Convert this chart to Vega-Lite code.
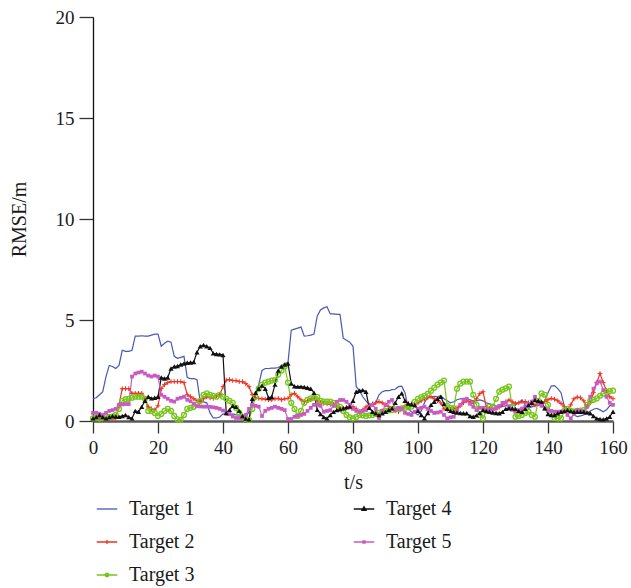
{
  "$schema": "https://vega.github.io/schema/vega-lite/v6.json",
  "width": 520,
  "height": 404,
  "autosize": {"type": "none"},
  "padding": {"left": 93, "top": 17, "right": 18, "bottom": 167},
  "background": "white",
  "config": {
    "view": {"stroke": null},
    "font": "Liberation Serif",
    "axis": {"labelFont": "Liberation Serif", "titleFont": "Liberation Serif", "labelColor": "#1a1a1a", "titleColor": "#1a1a1a", "grid": false, "titleFontWeight": "normal", "labelFontSize": 19, "titleFontSize": 20},
    "legend": {"labelFont": "Liberation Serif"}
  },
  "data": {"values": [
    {"t":0,"Target 1":1.1,"Target 2":0.1,"Target 3":0.13,"Target 4":0.13,"Target 5":0.4},
    {"t":1,"Target 1":1.15,"Target 2":0.1,"Target 3":0.15,"Target 4":0.2,"Target 5":0.4},
    {"t":2,"Target 1":1.3,"Target 2":0.08,"Target 3":0.13,"Target 4":0.3,"Target 5":0.35},
    {"t":3,"Target 1":1.45,"Target 2":0.1,"Target 3":0.15,"Target 4":0.2,"Target 5":0.3},
    {"t":4,"Target 1":2.2,"Target 2":0.12,"Target 3":0.2,"Target 4":0.13,"Target 5":0.4},
    {"t":5,"Target 1":2.75,"Target 2":0.1,"Target 3":0.2,"Target 4":0.2,"Target 5":0.5},
    {"t":6,"Target 1":2.7,"Target 2":0.1,"Target 3":0.22,"Target 4":0.25,"Target 5":0.54},
    {"t":7,"Target 1":2.6,"Target 2":0.12,"Target 3":0.3,"Target 4":0.22,"Target 5":0.6},
    {"t":8,"Target 1":2.75,"Target 2":0.8,"Target 3":0.6,"Target 4":0.21,"Target 5":0.8},
    {"t":9,"Target 1":3.5,"Target 2":1.6,"Target 3":1.0,"Target 4":0.25,"Target 5":0.82},
    {"t":10,"Target 1":3.45,"Target 2":1.6,"Target 3":1.08,"Target 4":0.3,"Target 5":0.84},
    {"t":11,"Target 1":3.45,"Target 2":1.6,"Target 3":1.1,"Target 4":0.2,"Target 5":0.84},
    {"t":12,"Target 1":3.5,"Target 2":1.37,"Target 3":1.15,"Target 4":0.13,"Target 5":2.2},
    {"t":13,"Target 1":4.2,"Target 2":1.37,"Target 3":1.2,"Target 4":0.5,"Target 5":2.35},
    {"t":14,"Target 1":4.2,"Target 2":1.37,"Target 3":1.2,"Target 4":0.46,"Target 5":2.4},
    {"t":15,"Target 1":4.22,"Target 2":1.37,"Target 3":1.2,"Target 4":0.7,"Target 5":2.44},
    {"t":16,"Target 1":4.2,"Target 2":1.1,"Target 3":1.1,"Target 4":1.0,"Target 5":2.35},
    {"t":17,"Target 1":4.2,"Target 2":0.7,"Target 3":0.5,"Target 4":1.2,"Target 5":2.25},
    {"t":18,"Target 1":4.25,"Target 2":0.6,"Target 3":0.5,"Target 4":1.12,"Target 5":2.2},
    {"t":19,"Target 1":4.3,"Target 2":0.55,"Target 3":0.4,"Target 4":1.15,"Target 5":2.25},
    {"t":20,"Target 1":4.3,"Target 2":0.75,"Target 3":0.25,"Target 4":1.2,"Target 5":2.2},
    {"t":21,"Target 1":3.7,"Target 2":1.6,"Target 3":0.35,"Target 4":2.15,"Target 5":1.3},
    {"t":22,"Target 1":3.85,"Target 2":1.8,"Target 3":0.5,"Target 4":2.1,"Target 5":1.2},
    {"t":23,"Target 1":3.95,"Target 2":1.9,"Target 3":0.6,"Target 4":2.15,"Target 5":1.1},
    {"t":24,"Target 1":3.9,"Target 2":1.95,"Target 3":0.5,"Target 4":2.6,"Target 5":1.0},
    {"t":25,"Target 1":3.2,"Target 2":1.95,"Target 3":0.25,"Target 4":2.7,"Target 5":0.96},
    {"t":26,"Target 1":3.1,"Target 2":1.95,"Target 3":0.08,"Target 4":2.72,"Target 5":1.1},
    {"t":27,"Target 1":3.15,"Target 2":1.95,"Target 3":0.06,"Target 4":2.8,"Target 5":1.15},
    {"t":28,"Target 1":3.2,"Target 2":1.9,"Target 3":0.3,"Target 4":2.85,"Target 5":1.2},
    {"t":29,"Target 1":2.15,"Target 2":1.3,"Target 3":0.6,"Target 4":2.88,"Target 5":1.05},
    {"t":30,"Target 1":2.1,"Target 2":1.2,"Target 3":0.65,"Target 4":2.9,"Target 5":0.98},
    {"t":31,"Target 1":2.1,"Target 2":1.1,"Target 3":0.7,"Target 4":2.92,"Target 5":0.85},
    {"t":32,"Target 1":2.05,"Target 2":1.0,"Target 3":0.8,"Target 4":3.4,"Target 5":0.74},
    {"t":33,"Target 1":0.95,"Target 2":0.96,"Target 3":1.0,"Target 4":3.7,"Target 5":0.72},
    {"t":34,"Target 1":0.95,"Target 2":1.1,"Target 3":1.3,"Target 4":3.76,"Target 5":0.71},
    {"t":35,"Target 1":0.9,"Target 2":1.2,"Target 3":1.37,"Target 4":3.7,"Target 5":0.71},
    {"t":36,"Target 1":0.4,"Target 2":1.15,"Target 3":1.3,"Target 4":3.62,"Target 5":0.7},
    {"t":37,"Target 1":0.15,"Target 2":1.12,"Target 3":1.25,"Target 4":3.35,"Target 5":0.68},
    {"t":38,"Target 1":0.15,"Target 2":1.25,"Target 3":1.2,"Target 4":3.32,"Target 5":0.65},
    {"t":39,"Target 1":0.2,"Target 2":1.3,"Target 3":1.3,"Target 4":3.3,"Target 5":0.6},
    {"t":40,"Target 1":0.35,"Target 2":1.7,"Target 3":1.2,"Target 4":3.27,"Target 5":0.52},
    {"t":41,"Target 1":0.3,"Target 2":2.03,"Target 3":1.1,"Target 4":0.4,"Target 5":0.42},
    {"t":42,"Target 1":0.3,"Target 2":2.05,"Target 3":1.0,"Target 4":0.55,"Target 5":0.35},
    {"t":43,"Target 1":0.35,"Target 2":2.0,"Target 3":0.9,"Target 4":0.75,"Target 5":0.22},
    {"t":44,"Target 1":0.3,"Target 2":2.0,"Target 3":0.65,"Target 4":0.7,"Target 5":0.15},
    {"t":45,"Target 1":0.3,"Target 2":1.95,"Target 3":0.4,"Target 4":0.5,"Target 5":0.15},
    {"t":46,"Target 1":0.25,"Target 2":1.95,"Target 3":0.2,"Target 4":0.25,"Target 5":0.2},
    {"t":47,"Target 1":0.2,"Target 2":1.85,"Target 3":0.1,"Target 4":0.12,"Target 5":0.3},
    {"t":48,"Target 1":0.45,"Target 2":1.7,"Target 3":0.05,"Target 4":0.08,"Target 5":0.6},
    {"t":49,"Target 1":0.9,"Target 2":1.3,"Target 3":0.6,"Target 4":1.1,"Target 5":0.8},
    {"t":50,"Target 1":1.3,"Target 2":1.15,"Target 3":1.2,"Target 4":1.4,"Target 5":0.75},
    {"t":51,"Target 1":1.8,"Target 2":1.12,"Target 3":1.6,"Target 4":1.6,"Target 5":0.71},
    {"t":52,"Target 1":2.5,"Target 2":1.1,"Target 3":1.8,"Target 4":1.75,"Target 5":0.25},
    {"t":53,"Target 1":2.6,"Target 2":1.08,"Target 3":1.9,"Target 4":1.6,"Target 5":0.5},
    {"t":54,"Target 1":2.6,"Target 2":1.05,"Target 3":1.95,"Target 4":1.15,"Target 5":0.6},
    {"t":55,"Target 1":2.62,"Target 2":1.05,"Target 3":2.0,"Target 4":1.2,"Target 5":0.65},
    {"t":56,"Target 1":2.62,"Target 2":1.1,"Target 3":2.03,"Target 4":1.8,"Target 5":0.71},
    {"t":57,"Target 1":2.65,"Target 2":1.12,"Target 3":2.3,"Target 4":2.5,"Target 5":0.65},
    {"t":58,"Target 1":2.75,"Target 2":1.05,"Target 3":2.5,"Target 4":2.7,"Target 5":0.6},
    {"t":59,"Target 1":2.85,"Target 2":1.1,"Target 3":2.7,"Target 4":2.8,"Target 5":0.54},
    {"t":60,"Target 1":2.9,"Target 2":1.12,"Target 3":1.9,"Target 4":2.85,"Target 5":0.1},
    {"t":61,"Target 1":4.5,"Target 2":1.3,"Target 3":0.9,"Target 4":1.85,"Target 5":0.1},
    {"t":62,"Target 1":4.55,"Target 2":1.37,"Target 3":0.6,"Target 4":1.72,"Target 5":0.21},
    {"t":63,"Target 1":4.6,"Target 2":1.2,"Target 3":0.25,"Target 4":1.7,"Target 5":0.25},
    {"t":64,"Target 1":4.65,"Target 2":1.05,"Target 3":0.5,"Target 4":1.7,"Target 5":0.3},
    {"t":65,"Target 1":4.2,"Target 2":0.96,"Target 3":0.9,"Target 4":1.68,"Target 5":0.35},
    {"t":66,"Target 1":4.22,"Target 2":1.0,"Target 3":1.05,"Target 4":1.65,"Target 5":0.5},
    {"t":67,"Target 1":4.25,"Target 2":1.05,"Target 3":1.12,"Target 4":1.6,"Target 5":0.65},
    {"t":68,"Target 1":4.3,"Target 2":1.12,"Target 3":1.15,"Target 4":1.4,"Target 5":0.8},
    {"t":69,"Target 1":5.2,"Target 2":1.0,"Target 3":1.2,"Target 4":0.55,"Target 5":0.8},
    {"t":70,"Target 1":5.5,"Target 2":0.9,"Target 3":1.0,"Target 4":0.35,"Target 5":0.75},
    {"t":71,"Target 1":5.6,"Target 2":0.87,"Target 3":0.96,"Target 4":0.2,"Target 5":0.46},
    {"t":72,"Target 1":5.66,"Target 2":0.85,"Target 3":0.96,"Target 4":0.13,"Target 5":0.5},
    {"t":73,"Target 1":5.3,"Target 2":0.82,"Target 3":0.96,"Target 4":0.3,"Target 5":0.54},
    {"t":74,"Target 1":5.3,"Target 2":0.8,"Target 3":0.9,"Target 4":0.45,"Target 5":0.75},
    {"t":75,"Target 1":5.28,"Target 2":0.7,"Target 3":0.8,"Target 4":0.54,"Target 5":0.95},
    {"t":76,"Target 1":5.28,"Target 2":0.63,"Target 3":0.7,"Target 4":0.58,"Target 5":1.04},
    {"t":77,"Target 1":4.1,"Target 2":0.63,"Target 3":0.5,"Target 4":0.63,"Target 5":1.04},
    {"t":78,"Target 1":4.0,"Target 2":0.65,"Target 3":0.3,"Target 4":0.68,"Target 5":0.95},
    {"t":79,"Target 1":3.9,"Target 2":0.68,"Target 3":0.18,"Target 4":0.71,"Target 5":0.8},
    {"t":80,"Target 1":3.7,"Target 2":0.71,"Target 3":0.13,"Target 4":1.0,"Target 5":0.6},
    {"t":81,"Target 1":1.7,"Target 2":0.6,"Target 3":0.2,"Target 4":1.45,"Target 5":0.5},
    {"t":82,"Target 1":1.5,"Target 2":0.46,"Target 3":0.3,"Target 4":1.5,"Target 5":0.46},
    {"t":83,"Target 1":1.2,"Target 2":0.55,"Target 3":0.28,"Target 4":1.53,"Target 5":0.5},
    {"t":84,"Target 1":1.0,"Target 2":0.7,"Target 3":0.25,"Target 4":1.45,"Target 5":0.54},
    {"t":85,"Target 1":0.8,"Target 2":0.79,"Target 3":0.28,"Target 4":0.65,"Target 5":0.7},
    {"t":86,"Target 1":0.75,"Target 2":0.85,"Target 3":0.3,"Target 4":0.46,"Target 5":0.8},
    {"t":87,"Target 1":0.9,"Target 2":0.9,"Target 3":0.35,"Target 4":0.38,"Target 5":0.6},
    {"t":88,"Target 1":1.3,"Target 2":0.96,"Target 3":0.4,"Target 4":0.3,"Target 5":0.15},
    {"t":89,"Target 1":1.45,"Target 2":0.9,"Target 3":0.46,"Target 4":0.38,"Target 5":0.5},
    {"t":90,"Target 1":1.5,"Target 2":0.8,"Target 3":0.5,"Target 4":0.46,"Target 5":0.8},
    {"t":91,"Target 1":1.5,"Target 2":0.71,"Target 3":0.52,"Target 4":0.55,"Target 5":0.95},
    {"t":92,"Target 1":1.55,"Target 2":0.6,"Target 3":0.54,"Target 4":0.63,"Target 5":1.04},
    {"t":93,"Target 1":1.57,"Target 2":0.5,"Target 3":0.58,"Target 4":0.9,"Target 5":0.54},
    {"t":94,"Target 1":1.7,"Target 2":0.46,"Target 3":0.6,"Target 4":1.2,"Target 5":0.65},
    {"t":95,"Target 1":1.72,"Target 2":0.6,"Target 3":0.63,"Target 4":1.37,"Target 5":0.6},
    {"t":96,"Target 1":1.4,"Target 2":0.75,"Target 3":0.65,"Target 4":1.0,"Target 5":0.4},
    {"t":97,"Target 1":0.6,"Target 2":0.87,"Target 3":0.68,"Target 4":0.87,"Target 5":0.35},
    {"t":98,"Target 1":0.45,"Target 2":0.85,"Target 3":0.71,"Target 4":0.83,"Target 5":0.3},
    {"t":99,"Target 1":0.4,"Target 2":0.8,"Target 3":0.95,"Target 4":0.79,"Target 5":0.45},
    {"t":100,"Target 1":0.3,"Target 2":0.9,"Target 3":1.1,"Target 4":0.5,"Target 5":0.6},
    {"t":101,"Target 1":0.5,"Target 2":1.0,"Target 3":1.18,"Target 4":0.3,"Target 5":0.65},
    {"t":102,"Target 1":0.9,"Target 2":1.1,"Target 3":1.25,"Target 4":0.13,"Target 5":0.71},
    {"t":103,"Target 1":1.2,"Target 2":1.15,"Target 3":1.35,"Target 4":0.4,"Target 5":0.6},
    {"t":104,"Target 1":1.2,"Target 2":1.2,"Target 3":1.5,"Target 4":0.8,"Target 5":0.5},
    {"t":105,"Target 1":1.22,"Target 2":1.1,"Target 3":1.65,"Target 4":0.95,"Target 5":0.4},
    {"t":106,"Target 1":1.2,"Target 2":1.0,"Target 3":1.8,"Target 4":1.1,"Target 5":0.42},
    {"t":107,"Target 1":1.25,"Target 2":0.9,"Target 3":1.9,"Target 4":1.2,"Target 5":0.46},
    {"t":108,"Target 1":1.1,"Target 2":0.6,"Target 3":2.0,"Target 4":0.85,"Target 5":0.3},
    {"t":109,"Target 1":1.0,"Target 2":0.54,"Target 3":0.75,"Target 4":0.6,"Target 5":0.13},
    {"t":110,"Target 1":0.9,"Target 2":0.58,"Target 3":0.65,"Target 4":0.5,"Target 5":0.18},
    {"t":111,"Target 1":0.95,"Target 2":0.6,"Target 3":0.63,"Target 4":0.45,"Target 5":0.21},
    {"t":112,"Target 1":1.05,"Target 2":0.65,"Target 3":1.6,"Target 4":0.42,"Target 5":0.5},
    {"t":113,"Target 1":1.1,"Target 2":0.75,"Target 3":1.85,"Target 4":0.4,"Target 5":0.8},
    {"t":114,"Target 1":1.12,"Target 2":0.9,"Target 3":1.95,"Target 4":0.38,"Target 5":1.04},
    {"t":115,"Target 1":1.1,"Target 2":1.0,"Target 3":1.95,"Target 4":0.38,"Target 5":1.1},
    {"t":116,"Target 1":1.05,"Target 2":0.95,"Target 3":1.95,"Target 4":0.25,"Target 5":0.85},
    {"t":117,"Target 1":1.0,"Target 2":0.87,"Target 3":1.3,"Target 4":0.21,"Target 5":0.7},
    {"t":118,"Target 1":1.0,"Target 2":1.1,"Target 3":0.8,"Target 4":0.28,"Target 5":0.54},
    {"t":119,"Target 1":1.04,"Target 2":1.35,"Target 3":0.3,"Target 4":0.4,"Target 5":0.65},
    {"t":120,"Target 1":1.0,"Target 2":1.45,"Target 3":0.13,"Target 4":0.54,"Target 5":0.65},
    {"t":121,"Target 1":0.9,"Target 2":0.7,"Target 3":0.5,"Target 4":0.5,"Target 5":0.54},
    {"t":122,"Target 1":0.85,"Target 2":0.6,"Target 3":0.71,"Target 4":0.46,"Target 5":0.55},
    {"t":123,"Target 1":0.8,"Target 2":0.55,"Target 3":0.71,"Target 4":0.42,"Target 5":0.58},
    {"t":124,"Target 1":0.75,"Target 2":0.6,"Target 3":1.1,"Target 4":0.4,"Target 5":0.63},
    {"t":125,"Target 1":0.7,"Target 2":0.68,"Target 3":1.45,"Target 4":0.38,"Target 5":0.75},
    {"t":126,"Target 1":0.72,"Target 2":0.8,"Target 3":1.55,"Target 4":0.45,"Target 5":0.9},
    {"t":127,"Target 1":0.75,"Target 2":0.95,"Target 3":1.62,"Target 4":0.6,"Target 5":0.9},
    {"t":128,"Target 1":0.78,"Target 2":1.04,"Target 3":1.7,"Target 4":0.63,"Target 5":0.72},
    {"t":129,"Target 1":0.8,"Target 2":0.95,"Target 3":0.7,"Target 4":0.63,"Target 5":0.55},
    {"t":130,"Target 1":0.8,"Target 2":0.87,"Target 3":0.21,"Target 4":0.6,"Target 5":0.46},
    {"t":131,"Target 1":0.9,"Target 2":0.9,"Target 3":0.25,"Target 4":0.5,"Target 5":0.54},
    {"t":132,"Target 1":1.04,"Target 2":0.95,"Target 3":0.3,"Target 4":0.46,"Target 5":0.62},
    {"t":133,"Target 1":0.8,"Target 2":0.96,"Target 3":0.4,"Target 4":0.6,"Target 5":0.71},
    {"t":134,"Target 1":0.63,"Target 2":0.9,"Target 3":0.46,"Target 4":0.8,"Target 5":0.85},
    {"t":135,"Target 1":0.7,"Target 2":0.85,"Target 3":0.3,"Target 4":0.9,"Target 5":0.96},
    {"t":136,"Target 1":0.75,"Target 2":0.79,"Target 3":0.21,"Target 4":1.04,"Target 5":1.2},
    {"t":137,"Target 1":0.78,"Target 2":0.85,"Target 3":1.0,"Target 4":1.0,"Target 5":0.87},
    {"t":138,"Target 1":0.8,"Target 2":0.9,"Target 3":1.37,"Target 4":0.96,"Target 5":0.75},
    {"t":139,"Target 1":1.0,"Target 2":0.96,"Target 3":1.3,"Target 4":0.63,"Target 5":0.62},
    {"t":140,"Target 1":1.4,"Target 2":1.05,"Target 3":0.8,"Target 4":0.35,"Target 5":0.54},
    {"t":141,"Target 1":1.73,"Target 2":1.12,"Target 3":0.4,"Target 4":0.3,"Target 5":0.5},
    {"t":142,"Target 1":1.75,"Target 2":1.08,"Target 3":0.15,"Target 4":0.3,"Target 5":0.46},
    {"t":143,"Target 1":1.6,"Target 2":1.0,"Target 3":0.13,"Target 4":0.38,"Target 5":0.46},
    {"t":144,"Target 1":1.4,"Target 2":0.87,"Target 3":0.13,"Target 4":0.46,"Target 5":0.46},
    {"t":145,"Target 1":0.75,"Target 2":0.7,"Target 3":0.5,"Target 4":0.5,"Target 5":0.46},
    {"t":146,"Target 1":0.6,"Target 2":0.54,"Target 3":0.6,"Target 4":0.54,"Target 5":0.3},
    {"t":147,"Target 1":0.45,"Target 2":0.8,"Target 3":0.5,"Target 4":0.5,"Target 5":0.13},
    {"t":148,"Target 1":0.3,"Target 2":1.1,"Target 3":0.46,"Target 4":0.46,"Target 5":0.35},
    {"t":149,"Target 1":0.22,"Target 2":1.18,"Target 3":0.5,"Target 4":0.46,"Target 5":0.54},
    {"t":150,"Target 1":0.25,"Target 2":1.15,"Target 3":0.52,"Target 4":0.46,"Target 5":0.5},
    {"t":151,"Target 1":0.3,"Target 2":1.0,"Target 3":0.54,"Target 4":0.46,"Target 5":0.46},
    {"t":152,"Target 1":0.4,"Target 2":0.7,"Target 3":0.8,"Target 4":0.42,"Target 5":0.7},
    {"t":153,"Target 1":0.5,"Target 2":0.9,"Target 3":1.0,"Target 4":0.38,"Target 5":1.2},
    {"t":154,"Target 1":0.58,"Target 2":1.4,"Target 3":1.05,"Target 4":0.25,"Target 5":1.6},
    {"t":155,"Target 1":0.63,"Target 2":1.9,"Target 3":1.12,"Target 4":0.13,"Target 5":1.86},
    {"t":156,"Target 1":0.55,"Target 2":2.35,"Target 3":1.25,"Target 4":0.1,"Target 5":1.95},
    {"t":157,"Target 1":0.46,"Target 2":1.9,"Target 3":1.35,"Target 4":0.08,"Target 5":1.53},
    {"t":158,"Target 1":0.55,"Target 2":1.5,"Target 3":1.45,"Target 4":0.12,"Target 5":1.2},
    {"t":159,"Target 1":0.75,"Target 2":1.2,"Target 3":1.48,"Target 4":0.21,"Target 5":0.9},
    {"t":160,"Target 1":0.8,"Target 2":1.1,"Target 3":1.5,"Target 4":0.46,"Target 5":0.8}
  ]},
  "transform": [{"fold": ["Target 1", "Target 2", "Target 3", "Target 4", "Target 5"], "as": ["series", "v"]}],
  "encoding": {
    "x": {"field": "t", "type": "quantitative", "scale": {"domain": [0, 160], "nice": false, "zero": false},
      "axis": {"values": [0, 20, 40, 60, 80, 100, 120, 140, 160], "title": "t/s", "domainColor": "#5a5a5a", "domainWidth": 2.5, "tickColor": "#333", "tickWidth": 1.3, "tickSize": 12, "labelPadding": 5, "titlePadding": 15, "labelFlush": false}},
    "y": {"field": "v", "type": "quantitative", "scale": {"domain": [0, 20], "nice": false},
      "axis": {"values": [0, 5, 10, 15, 20], "title": "RMSE/m", "domainColor": "#111", "domainWidth": 1.3, "tickColor": "#333", "tickWidth": 1.3, "tickSize": 14, "labelPadding": 5, "titlePadding": 26}}
  },
  "layer": [
    {
      "mark": {"type": "line", "strokeWidth": 1.2},
      "encoding": {
        "color": {"field": "series", "type": "nominal",
          "scale": {"domain": ["Target 1", "Target 2", "Target 3", "Target 4", "Target 5"], "range": ["#4a57b5", "#ec3323", "#78c51c", "#111111", "#c95ac2"]},
          "legend": {"orient": "none", "legendX": 3, "legendY": 481, "columns": 2, "columnPadding": 156, "rowPadding": 12, "padding": 0, "title": null,
            "symbolType": "stroke", "symbolSize": 420, "symbolStrokeWidth": 1.3, "labelFontSize": 20, "labelColor": "#1a1a1a", "labelOffset": 11, "labelLimit": 200,
            "encode": {"symbols": {"update": {
              "shape": {"signal": "datum.value === 'Target 2' ? 'M-1,0H1M0,-0.2V0.2' : datum.value === 'Target 3' ? 'M-1,0H1M0.18,0A0.18,0.18,0,1,1,-0.18,0A0.18,0.18,0,1,1,0.18,0' : datum.value === 'Target 4' ? 'M-1,0H1M0,-0.22L0.2,0.12H-0.2Z' : datum.value === 'Target 5' ? 'M-1,0H1M-0.1,-0.1H0.1V0.1H-0.1Z' : 'M-1,0H1'"},
              "fill": {"signal": "datum.value === 'Target 4' ? '#111111' : datum.value === 'Target 5' ? '#c95ac2' : datum.value === 'Target 3' ? '#78c51c' : 'transparent'"}
            }}}}
        }
      }
    },
    {
      "transform": [{"filter": "datum.series === 'Target 2'"}],
      "mark": {"type": "point", "shape": "M-1,0H1M0,-1V1", "size": 22, "filled": false, "strokeWidth": 1, "color": "#ec3323", "opacity": 1},
      "encoding": {}
    },
    {
      "transform": [{"filter": "datum.series === 'Target 3'"}],
      "mark": {"type": "point", "shape": "circle", "size": 24, "filled": false, "strokeWidth": 1.3, "color": "#78c51c", "opacity": 1},
      "encoding": {}
    },
    {
      "transform": [{"filter": "datum.series === 'Target 5'"}],
      "mark": {"type": "point", "shape": "square", "size": 14, "filled": true, "color": "#c95ac2", "opacity": 1},
      "encoding": {}
    },
    {
      "transform": [{"filter": "datum.series === 'Target 4'"}],
      "mark": {"type": "point", "shape": "triangle-up", "size": 26, "filled": true, "color": "#111111", "opacity": 1},
      "encoding": {}
    }
  ]
}
